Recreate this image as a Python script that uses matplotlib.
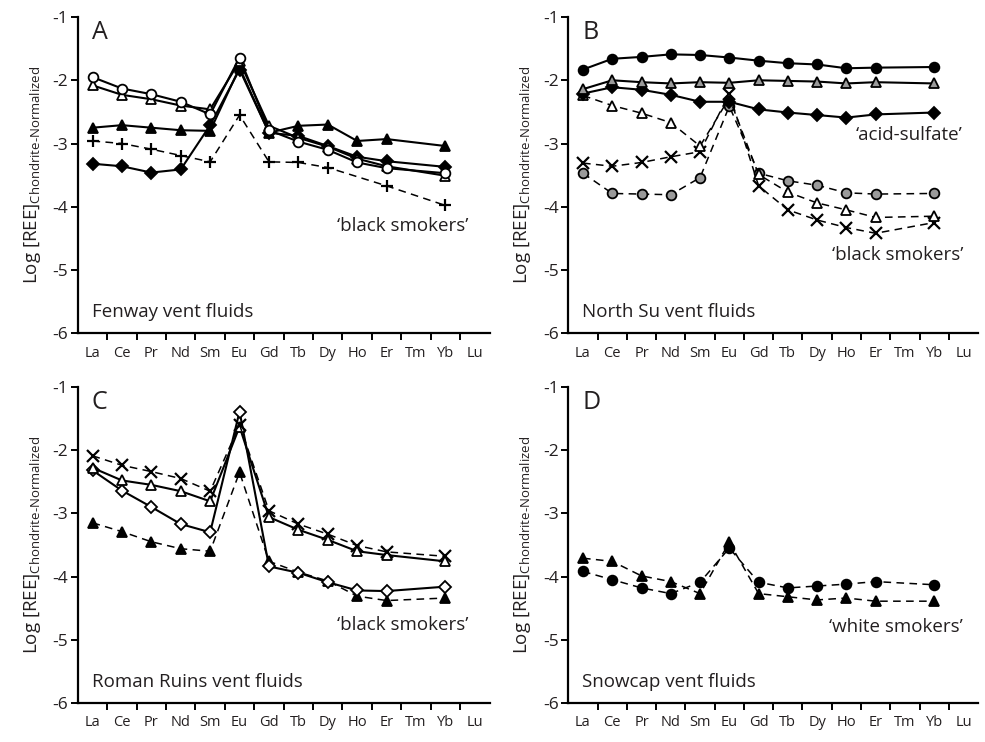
import numpy as np
import matplotlib
matplotlib.use("Agg")
import matplotlib.pyplot as plt

plt.rcParams["font.family"] = ["Open Sans", "DejaVu Sans"]

elements = ["La", "Ce", "Pr", "Nd", "Sm", "Eu", "Gd", "Tb", "Dy", "Ho", "Er", "Tm", "Yb", "Lu"]
nan = np.nan

# Panel A - Fenway (Tm, Lu not measured)
fen_open_circle = [-1.95, -2.13, -2.22, -2.34, -2.54, -1.64, -2.79, -2.97, -3.10, -3.30, -3.39, nan, -3.47, nan]
fen_open_tri = [-2.08, -2.23, -2.30, -2.40, -2.46, -1.70, -2.72, -2.91, -3.05, -3.24, -3.36, nan, -3.51, nan]
fen_filled_tri = [-2.75, -2.71, -2.75, -2.79, -2.80, -1.80, -2.83, -2.72, -2.70, -2.96, -2.93, nan, -3.04, nan]
fen_diamond = [-3.32, -3.36, -3.46, -3.41, -2.71, -1.83, -2.83, -2.88, -3.04, -3.21, -3.28, nan, -3.37, nan]
fen_plus = [-2.96, -3.00, -3.09, -3.19, -3.29, -2.55, -3.29, -3.30, -3.38, nan, -3.67, nan, -3.98, nan]

# Panel B - North Su
nsu_circle = [-1.83, -1.66, -1.63, -1.59, -1.60, -1.64, -1.69, -1.73, -1.75, -1.81, -1.80, nan, -1.79, nan]
nsu_gray_tri = [-2.14, -2.00, -2.03, -2.05, -2.03, -2.04, -2.00, -2.01, -2.02, -2.05, -2.03, nan, -2.05, nan]
nsu_diamond = [-2.21, -2.11, -2.15, -2.23, -2.34, -2.34, -2.46, -2.51, -2.55, -2.59, -2.54, nan, -2.51, nan]
nsu_open_tri = [-2.24, -2.40, -2.52, -2.67, -3.04, -2.28, -3.49, -3.77, -3.94, -4.05, -4.17, nan, -4.15, nan]
nsu_cross = [-3.31, -3.36, -3.30, -3.21, -3.13, -2.21, -3.67, -4.05, -4.21, -4.33, -4.42, nan, -4.25, nan]
nsu_gray_circle = [-3.47, -3.79, -3.80, -3.81, -3.54, -2.41, -3.47, -3.59, -3.66, -3.78, -3.80, nan, -3.79, nan]

# Panel C - Roman Ruins
rr_cross = [-2.09, -2.24, -2.34, -2.45, -2.65, -1.60, -2.96, -3.17, -3.33, -3.51, -3.61, nan, -3.68, nan]
rr_open_tri = [-2.28, -2.48, -2.55, -2.65, -2.81, -1.63, -3.06, -3.26, -3.42, -3.60, -3.66, nan, -3.76, nan]
rr_open_diamond = [-2.32, -2.64, -2.90, -3.17, -3.30, -1.39, -3.84, -3.94, -4.09, -4.22, -4.23, nan, -4.16, nan]
rr_filled_tri = [-3.15, -3.29, -3.45, -3.56, -3.60, -2.35, -3.76, -3.93, -4.07, -4.31, -4.38, nan, -4.34, nan]

# Panel D - Snowcap
sc_circle = [-3.92, -4.05, -4.18, -4.27, -4.09, -3.55, -4.09, -4.18, -4.15, -4.12, -4.08, nan, -4.13, nan]
sc_filled_tri = [-3.71, -3.76, -3.99, -4.08, -4.27, -3.46, -4.27, -4.32, -4.37, -4.34, -4.39, nan, -4.39, nan]

SOLID = "-"
DASHED = (0, (5, 3.5))
GRAY = "#9a9a9a"
INK = "#231f20"

x = np.arange(len(elements)) + 0.5

# marker sizes per symbol, in points
SIZES = {"o": 7.0, "^": 7.5, "D": 5.8, "+": 9.0, "x": 8.5}


def draw(ax, values, marker, face, ls):
    vals = np.array(values, dtype=float)
    ok = ~np.isnan(vals)
    lw = 1.5 if ls == SOLID else 1.1
    mew = 1.6 if marker in ("+", "x") else 1.3
    ax.plot(x[ok], vals[ok], color="black", linestyle=ls, linewidth=lw,
            marker=marker, markersize=SIZES[marker], markerfacecolor=face,
            markeredgecolor="black", markeredgewidth=mew)


def style_axes(ax, letter, site):
    ax.set_xlim(0, 14)
    ax.set_ylim(-6, -1)
    for side in ("top", "right"):
        ax.spines[side].set_visible(False)
    for side in ("left", "bottom"):
        ax.spines[side].set_linewidth(1.6)
    ax.set_yticks([-1, -2, -3, -4, -5, -6])
    ax.set_yticklabels(["-1", "-2", "-3", "-4", "-5", "-6"])
    ax.set_xticks(np.arange(1, 14))
    ax.set_xticklabels([])
    ax.set_xticks(x, minor=True)
    ax.set_xticklabels(elements, minor=True)
    ax.tick_params(axis="x", which="major", direction="out", length=5, width=1.4)
    ax.tick_params(axis="x", which="minor", length=0, pad=9, labelsize=10.5, labelcolor=INK)
    ax.tick_params(axis="y", direction="out", length=5, width=1.4, labelsize=12.5, pad=2, labelcolor=INK)
    ax.set_ylabel("Log [REE]$_{\\mathregular{Chondrite\u2010Normalized}}$", fontsize=13.5,
                  labelpad=7, color=INK)
    ax.text(0.48, -1.25, letter, fontsize=18, ha="left", va="center", color=INK)
    ax.text(0.48, -5.67, site, fontsize=13.5, ha="left", va="center", color=INK)


def note(ax, xr, y, label):
    ax.text(xr, y, label, fontsize=13.5, ha="right", va="center", color=INK)


fig = plt.figure(figsize=(9.85, 7.42), dpi=100)
axA = fig.add_axes([0.079, 0.551, 0.418, 0.426])
axB = fig.add_axes([0.577, 0.551, 0.416, 0.426])
axC = fig.add_axes([0.079, 0.0526, 0.418, 0.426])
axD = fig.add_axes([0.577, 0.0526, 0.416, 0.426])

# A
draw(axA, fen_plus, "+", "black", DASHED)
draw(axA, fen_filled_tri, "^", "black", SOLID)
draw(axA, fen_diamond, "D", "black", SOLID)
draw(axA, fen_open_tri, "^", "white", SOLID)
draw(axA, fen_open_circle, "o", "white", SOLID)
style_axes(axA, "A", "Fenway vent fluids")
note(axA, 13.27, -4.31, "\u2018black smokers\u2019")

# B
draw(axB, nsu_gray_circle, "o", GRAY, DASHED)
draw(axB, nsu_cross, "x", "black", DASHED)
draw(axB, nsu_open_tri, "^", "white", DASHED)
draw(axB, nsu_diamond, "D", "black", SOLID)
draw(axB, nsu_gray_tri, "^", GRAY, SOLID)
draw(axB, nsu_circle, "o", "black", SOLID)
style_axes(axB, "B", "North Su vent fluids")
note(axB, 13.48, -2.87, "\u2018acid-sulfate\u2019")
note(axB, 13.48, -4.77, "\u2018black smokers\u2019")

# C
draw(axC, rr_filled_tri, "^", "black", DASHED)
draw(axC, rr_open_diamond, "D", "white", SOLID)
draw(axC, rr_open_tri, "^", "white", SOLID)
draw(axC, rr_cross, "x", "black", DASHED)
style_axes(axC, "C", "Roman Ruins vent fluids")
note(axC, 13.27, -4.77, "\u2018black smokers\u2019")

# D
draw(axD, sc_circle, "o", "black", DASHED)
draw(axD, sc_filled_tri, "^", "black", DASHED)
style_axes(axD, "D", "Snowcap vent fluids")
note(axD, 13.48, -4.80, "\u2018white smokers\u2019")

fig.savefig("out.png", dpi=100)
